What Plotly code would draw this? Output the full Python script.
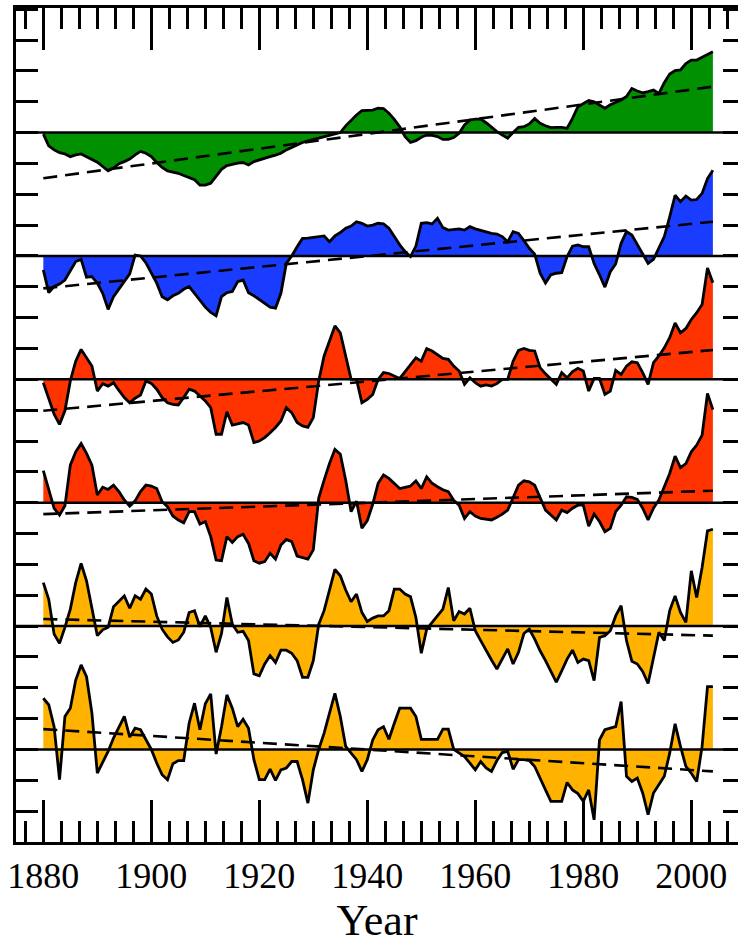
import plotly.graph_objects as go

years = list(range(1880, 2005))

green = [-0.05, -0.43, -0.56, -0.65, -0.69, -0.78, -0.72, -0.69, -0.78, -0.86,
         -0.96, -1.10, -1.24, -1.15, -1.01, -0.94, -0.86, -0.72, -0.61, -0.67,
         -0.78, -0.97, -1.13, -1.24, -1.28, -1.32, -1.39, -1.46, -1.53, -1.70,
         -1.70, -1.64, -1.42, -1.19, -1.07, -1.02, -0.99, -0.97, -1.05, -0.94,
         -0.88, -0.83, -0.78, -0.73, -0.67, -0.56, -0.49, -0.40, -0.32, -0.26,
         -0.22, -0.18, -0.13, -0.09, -0.05, 0.0, 0.22, 0.41, 0.57, 0.71,
         0.71, 0.73, 0.79, 0.78, 0.63, 0.43, 0.19, -0.13, -0.32, -0.26,
         -0.15, -0.08, -0.09, -0.13, -0.22, -0.22, -0.16, -0.02, 0.25, 0.41,
         0.44, 0.44, 0.32, 0.17, 0.03, -0.08, -0.18, 0.0, 0.17, 0.19,
         0.28, 0.46, 0.30, 0.22, 0.16, 0.17, 0.17, 0.14, 0.46, 0.84,
         0.95, 1.04, 1.00, 0.90, 0.79, 0.90, 0.97, 1.06, 1.17, 1.43,
         1.35, 1.29, 1.33, 1.38, 1.27, 1.62, 1.90, 2.01, 2.03, 2.24,
         2.35, 2.35, 2.44, 2.54, 2.62]

blue = [-0.45, -1.19, -0.99, -0.91, -0.78, -0.47, -0.18, -0.11, -0.69, -0.67,
        -0.88, -1.21, -1.73, -1.32, -1.08, -0.83, -0.58, 0.03, 0.0, -0.22,
        -0.56, -0.88, -1.32, -1.42, -1.29, -1.21, -1.08, -0.99, -1.21, -1.42,
        -1.66, -1.83, -1.94, -1.32, -1.19, -1.15, -0.83, -0.78, -1.19, -1.29,
        -1.42, -1.55, -1.66, -1.69, -1.21, -0.24, 0.0, 0.30, 0.57, 0.58,
        0.60, 0.63, 0.65, 0.46, 0.65, 0.76, 0.90, 0.97, 1.11, 1.06,
        0.97, 1.00, 1.06, 1.04, 0.90, 0.63, 0.36, 0.14, -0.02, 0.32,
        1.06, 1.08, 1.04, 1.22, 0.92, 0.84, 0.86, 0.88, 0.84, 0.95,
        0.88, 0.82, 0.78, 0.73, 0.71, 0.63, 0.46, 0.79, 0.73, 0.50,
        0.25, 0.06, -0.56, -0.88, -0.61, -0.56, -0.54, -0.02, 0.32, 0.36,
        0.30, 0.30, -0.24, -0.61, -1.01, -0.51, -0.26, 0.41, 0.79, 0.68,
        0.36, 0.06, -0.24, -0.11, 0.25, 0.63, 1.27, 1.97, 1.76, 1.94,
        1.81, 1.83, 2.03, 2.51, 2.78]

red1 = [-0.11, -0.65, -1.13, -1.46, -1.02, -0.05, 0.59, 0.97, 0.70, 0.43,
        -0.38, -0.14, -0.22, -0.11, -0.36, -0.59, -0.76, -0.61, -0.51, -0.05,
        -0.13, -0.32, -0.59, -0.76, -0.81, -0.83, -0.59, -0.32, -0.38, -0.54,
        -0.70, -0.92, -1.78, -1.78, -1.05, -1.48, -1.43, -1.40, -1.48, -2.05,
        -2.00, -1.89, -1.73, -1.56, -1.35, -0.92, -1.08, -1.40, -1.51, -1.56,
        -1.24, -0.05, 0.76, 1.24, 1.73, 1.51, 0.70, 0.0, 0.0, -0.76,
        -0.65, -0.49, 0.0, 0.22, 0.19, 0.11, 0.03, 0.25, 0.49, 0.70,
        0.59, 1.00, 0.92, 0.79, 0.68, 0.65, 0.43, 0.27, -0.16, 0.05,
        -0.11, -0.22, -0.18, -0.22, -0.14, 0.0, 0.0, 0.59, 0.94, 1.00,
        0.94, 0.92, 0.38, 0.18, 0.0, -0.16, 0.22, 0.05, 0.25, 0.36,
        0.27, -0.38, 0.03, 0.03, -0.49, -0.38, 0.29, 0.16, 0.43, 0.57,
        0.54, 0.22, -0.16, 0.54, 0.76, 1.02, 1.35, 1.83, 1.51, 1.65,
        1.94, 2.16, 2.43, 3.61, 3.13]

red2 = [1.04, 0.43, -0.18, -0.40, -0.10, 1.22, 1.65, 1.92, 1.60, 1.22,
        0.25, 0.50, 0.43, 0.57, 0.36, 0.09, -0.11, 0.06, 0.36, 0.57,
        0.54, 0.46, 0.03, -0.13, -0.43, -0.56, -0.65, -0.29, -0.29, -0.69,
        -0.61, -1.10, -1.86, -1.88, -1.10, -1.29, -1.10, -1.02, -1.32, -1.88,
        -1.96, -1.91, -1.64, -1.83, -1.37, -1.19, -1.26, -1.73, -1.77, -1.83,
        -1.53, 0.15, 0.73, 1.27, 1.73, 1.57, 0.73, -0.29, 0.05, -0.83,
        -0.58, -0.05, 0.63, 0.90, 0.79, 0.63, 0.46, 0.50, 0.54, 0.71,
        0.46, 0.84, 0.63, 0.52, 0.42, 0.36, 0.08, -0.08, -0.51, -0.29,
        -0.43, -0.51, -0.53, -0.56, -0.47, -0.37, -0.24, 0.19, 0.57, 0.71,
        0.68, 0.57, 0.14, -0.24, -0.40, -0.56, -0.24, -0.32, -0.18, -0.08,
        -0.08, -0.76, -0.37, -0.61, -0.94, -0.83, -0.29, -0.08, 0.19, 0.17,
        0.11, -0.18, -0.56, -0.18, 0.09, 0.50, 0.95, 1.51, 1.14, 1.27,
        1.65, 1.87, 2.19, 3.54, 3.02]

orange1 = [1.41, 0.87, -0.26, -0.56, -0.04, 0.55, 1.41, 2.03, 1.47, 0.60,
           -0.31, -0.12, -0.04, 0.63, 0.82, 0.98, 0.58, 0.98, 0.87, 1.20,
           1.04, 0.33, -0.10, -0.35, -0.53, -0.45, -0.20, 0.44, 0.50, -0.02,
           0.33, -0.04, -0.85, -0.24, 0.93, 0.06, -0.20, -0.17, -0.47, -1.55,
           -1.61, -1.23, -0.96, -1.18, -0.78, -0.78, -0.88, -1.12, -1.66, -1.66,
           -1.12, 0.06, 0.50, 1.14, 1.84, 1.63, 1.17, 0.79, 1.04, 0.44,
           0.15, 0.26, 0.33, 0.33, 0.50, 1.20, 1.20, 1.04, 0.95, 0.28,
           -0.88, -0.10, 0.12, 0.33, 0.55, 1.25, 0.17, 0.47, 0.39, 0.58,
           -0.15, -0.47, -0.80, -1.10, -1.39, -1.04, -0.74, -1.23, -0.85, -0.24,
           -0.10, -0.42, -0.80, -1.12, -1.45, -1.82, -1.45, -1.07, -0.78, -1.18,
           -1.07, -1.12, -1.77, -0.37, -0.31, -0.15, 0.33, 0.66, -0.47, -1.14,
           -1.23, -1.47, -1.86, -1.01, -0.20, -0.47, 0.50, 0.98, 0.44, 0.12,
           1.79, 0.93, 1.90, 3.09, 3.14]

orange2 = [1.66, 1.45, 0.74, -0.98, 1.07, 1.34, 2.25, 2.74, 2.36, 1.18,
           -0.77, -0.44, -0.06, 0.37, 0.74, 1.07, 0.40, 0.69, 0.64, 0.31,
           0.0, -0.44, -0.82, -0.98, -0.46, -0.36, -0.36, 0.85, 1.50, 0.64,
           1.48, 1.80, -0.15, 0.74, 1.77, 1.34, 0.74, 0.98, 0.69, -0.33,
           -0.98, -0.98, -0.64, -1.00, -0.66, -0.60, -0.39, -0.39, -0.98, -1.74,
           -0.66, 0.0, 0.53, 1.18, 1.82, 1.07, 0.10, -0.12, -0.33, -0.71,
           -0.33, 0.31, 0.64, 0.74, 0.33, 0.85, 1.34, 1.34, 1.34, 1.07,
           0.33, 0.33, 0.33, 0.33, 0.66, 0.66, 0.0, -0.12, -0.23, -0.44,
           -0.66, -0.39, -0.60, -0.71, -0.36, -0.10, -0.06, -0.64, -0.33, -0.33,
           -0.36, -0.55, -0.96, -1.31, -1.68, -1.68, -1.68, -1.07, -1.31, -1.43,
           -1.68, -1.31, -2.28, 0.31, 0.64, 0.69, 0.74, 1.55, -0.87, -1.04,
           -0.93, -1.41, -2.11, -1.41, -1.14, -0.87, -0.12, 0.83, 0.10, -0.55,
           -0.77, -1.04, 0.10, 2.04, 2.04]

trend_years = [1880, 2004]
trend_start = [-1.48, -1.05, -1.02, -0.37, 0.23, 0.66]
trend_end = [1.49, 1.11, 0.95, 0.39, -0.31, -0.71]

series = [green, blue, red1, red2, orange1, orange2]
colors = ["#009000", "#1a3cff", "#ff3300", "#ff3300", "#ffb300", "#ffb300"]
offsets = [20, 16, 12, 8, 4, 0]
y_lo, y_hi = -3, 24.04

fig = go.Figure()
shapes = []
for i, (vals, col, off) in enumerate(zip(series, colors, offsets)):
    ax = "y%d" % (i + 2)
    fig.add_trace(go.Scatter(x=years, y=vals, yaxis=ax, mode="lines",
                             fill="tozeroy", fillcolor=col,
                             line=dict(color="black", width=2.8),
                             showlegend=False, hoverinfo="skip"))
    fig.add_trace(go.Scatter(x=trend_years, y=[trend_start[i], trend_end[i]],
                             yaxis=ax, mode="lines",
                             line=dict(color="black", width=2.6, dash="14px,8px"),
                             showlegend=False, hoverinfo="skip"))
    shapes.append(dict(type="line", xref="paper", x0=0, x1=1, yref=ax,
                       y0=0, y1=0, line=dict(color="black", width=2.5),
                       layer="above"))
    fig.layout["yaxis%d" % (i + 2)] = dict(
        overlaying="y", range=[y_lo - off, y_hi - off], visible=False,
        showgrid=False, zeroline=False)

# invisible anchors for the tick-only axes
fig.add_trace(go.Scatter(x=[1880], y=[0], mode="markers", marker=dict(opacity=0),
                         showlegend=False, hoverinfo="skip"))
fig.add_trace(go.Scatter(x=[1880], y=[0], yaxis="y8", mode="markers",
                         marker=dict(opacity=0), showlegend=False, hoverinfo="skip"))

fig.update_layout(
    width=738, height=945,
    margin=dict(l=16, r=0, t=8, b=103),
    paper_bgcolor="white", plot_bgcolor="white",
    shapes=shapes,
    xaxis=dict(range=[1874.94, 2008.65], tick0=1880, dtick=20,
               ticks="inside", ticklen=42, tickwidth=2.5, tickcolor="black",
               showline=True, linewidth=3, linecolor="black", mirror="ticks",
               showgrid=False, zeroline=False,
               tickfont=dict(family="Liberation Serif", size=36, color="black"),
               title=dict(text="Year", standoff=12,
                          font=dict(family="Liberation Serif", size=44, color="black")),
               minor=dict(tick0=1880, dtick=20 / 6, ticks="inside", ticklen=21,
                          tickwidth=2.5, tickcolor="black", showgrid=False)),
    yaxis=dict(range=[y_lo, y_hi], tick0=0, dtick=1, ticks="inside",
               ticklen=22, tickwidth=2.5, tickcolor="black",
               showticklabels=False, showline=True, linewidth=3,
               linecolor="black", mirror=False, showgrid=False,
               zeroline=False),
    yaxis8=dict(overlaying="y", side="right", range=[y_lo, y_hi], tick0=0,
                dtick=1, ticks="inside", ticklen=15, tickwidth=2.5,
                tickcolor="black", showticklabels=False, showline=False,
                showgrid=False, zeroline=False),
)

fig.write_html("out.html")
